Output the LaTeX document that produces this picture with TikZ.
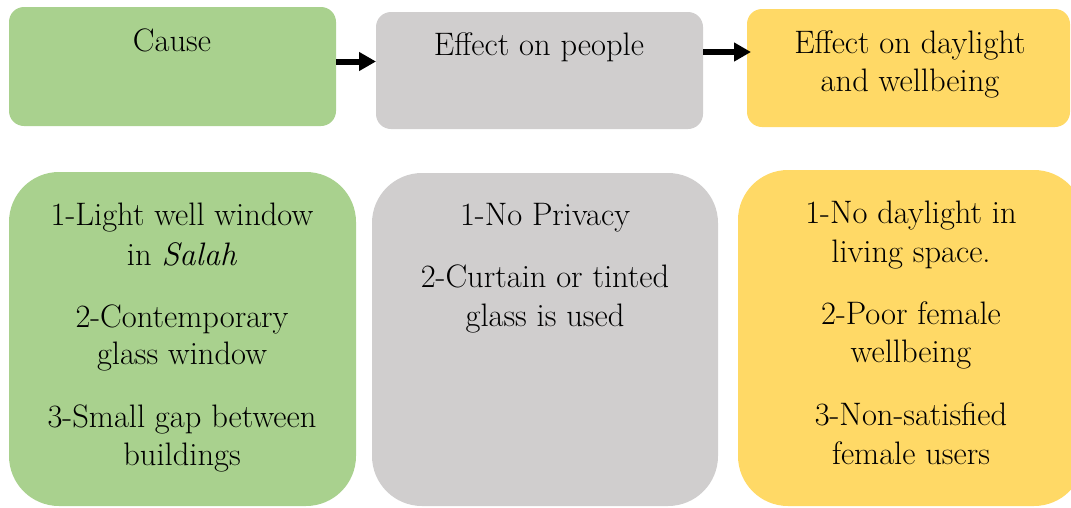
\documentclass[tikz,border=0pt]{standalone}
\usepackage{fontspec}
\setmainfont{Latin Modern Roman}
\usetikzlibrary{arrows.meta}
\definecolor{causegreen}{HTML}{A9D18E}
\definecolor{peoplegray}{HTML}{D0CECE}
\definecolor{lightyellow}{HTML}{FFD966}
\tikzset{
  panel/.style={rectangle, draw=none, inner sep=0pt, outer sep=0pt},
  head/.style={panel, rounded corners=15pt},
  body/.style={panel, rounded corners=50pt},
  txt/.style={anchor=base, inner sep=0pt, font=\rmfamily\fontsize{32.5}{39}\selectfont},
  flow/.style={line width=6pt, -{Triangle[length=17pt,width=18pt]}}
}
\begin{document}
\begin{tikzpicture}[x=1pt,y=-1pt]
\useasboundingbox (0,0) rectangle (1071,507);
\clip (0,0) rectangle (1071,507);

% header boxes
\node[head, fill=causegreen, minimum width=327pt, minimum height=119pt] (cause) at (172.5,66.5) {};
\node[head, fill=peoplegray, minimum width=327pt, minimum height=117pt] (people) at (539.5,70.5) {};
\node[head, fill=lightyellow, minimum width=323pt, minimum height=118pt] (daylight) at (908.5,68) {};

% detail boxes
\node[body, fill=causegreen, minimum width=347pt, minimum height=334pt] (causelist) at (182.5,339) {};
\node[body, fill=peoplegray, minimum width=346pt, minimum height=333pt] (peoplelist) at (545,339.5) {};
\node[body, fill=lightyellow, minimum width=346pt, minimum height=336pt] (daylightlist) at (911,338) {};

% arrows between headers
\coordinate (a1) at (0,61.5);
\coordinate (a2) at (0,52);
\draw[flow] (cause.east |- a1) -- (people.west |- a1);
\draw[flow] (people.east |- a2) -- ([xshift=4pt]daylight.west |- a2);

% header texts
\node[txt] (tcause) at (172,51) {Cause};
\node[txt] (tpeople) at (539,55) {Effect on people};
\node[txt] (tday1) at (910,53) {Effect on daylight};
\node[txt] (tday2) at (910,91) {and wellbeing};

% causes
\node[txt] (c1a) at (182,225) {1-Light well window};
\node[txt] (c1b) at (182,265) {in \textit{Salah}};
\node[txt] (c2a) at (182,327) {2-Contemporary};
\node[txt] (c2b) at (182,364) {glass window};
\node[txt] (c3a) at (182,427) {3-Small gap between};
\node[txt] (c3b) at (182,465) {buildings};

% effects on people
\node[txt] (p1) at (545,225) {1-No Privacy};
\node[txt] (p2a) at (545,287) {2-Curtain or tinted};
\node[txt] (p2b) at (545,326) {glass is used};

% effects on daylight and wellbeing
\node[txt] (d1a) at (911,223) {1-No daylight in};
\node[txt] (d1b) at (911,262) {living space.};
\node[txt] (d2a) at (911,324) {2-Poor female};
\node[txt] (d2b) at (911,362) {wellbeing};
\node[txt] (d3a) at (911,425) {3-Non-satisfied};
\node[txt] (d3b) at (911,464) {female users};
\end{tikzpicture}
\end{document}
